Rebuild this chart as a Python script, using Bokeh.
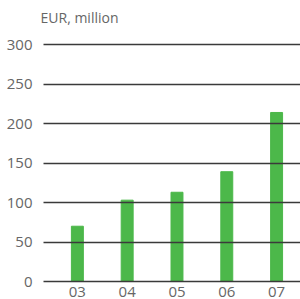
from bokeh.plotting import figure
from bokeh.embed import file_html
from bokeh.resources import INLINE
from bokeh.models import FixedTicker, Range1d, ColumnDataSource

years = ["03", "04", "05", "06", "07"]
values = [70, 103, 113, 139, 214]
y_ticks = [0, 50, 100, 150, 200, 250, 300]

xs = list(range(len(years)))
src = ColumnDataSource(dict(x=xs, top=values))

p = figure(width=300, height=299, output_backend="svg", toolbar_location=None,
           x_range=Range1d(-0.68, 4.48), y_range=Range1d(-6.3, 316.5),
           min_border_left=43, min_border_right=0, min_border_top=11, min_border_bottom=0)
p.vbar(x="x", top="top", width=0.24, bottom=0, color="#4cb84a", source=src)

p.title.text = "EUR, million"
p.title.text_font = "Open Sans"
p.title.text_font_size = "14px"
p.title.text_font_style = "normal"
p.title.text_color = "#666666"
p.title.align = "left"
p.title.offset = -3

p.outline_line_color = None
p.xgrid.grid_line_color = None
p.ygrid.ticker = FixedTicker(ticks=y_ticks)
p.ygrid.grid_line_color = "#3a3a3a"
p.ygrid.grid_line_width = 1.5
p.ygrid.level = "overlay"

p.yaxis.ticker = FixedTicker(ticks=y_ticks)
p.xaxis.ticker = FixedTicker(ticks=xs)
p.xaxis.major_label_overrides = {i: y for i, y in enumerate(years)}
for ax in (p.xaxis[0], p.yaxis[0]):
    ax.axis_line_color = None
    ax.major_tick_line_color = None
    ax.minor_tick_line_color = None
    ax.major_tick_out = 0
    ax.major_tick_in = 0
    ax.minor_tick_out = 0
    ax.minor_tick_in = 0
    ax.major_label_text_font = "Open Sans"
    ax.major_label_text_font_size = "15px"
    ax.major_label_text_color = "#666666"
p.yaxis.major_label_standoff = 11
p.xaxis.major_label_standoff = 0

open("out.html", "w").write(file_html(p, INLINE))
